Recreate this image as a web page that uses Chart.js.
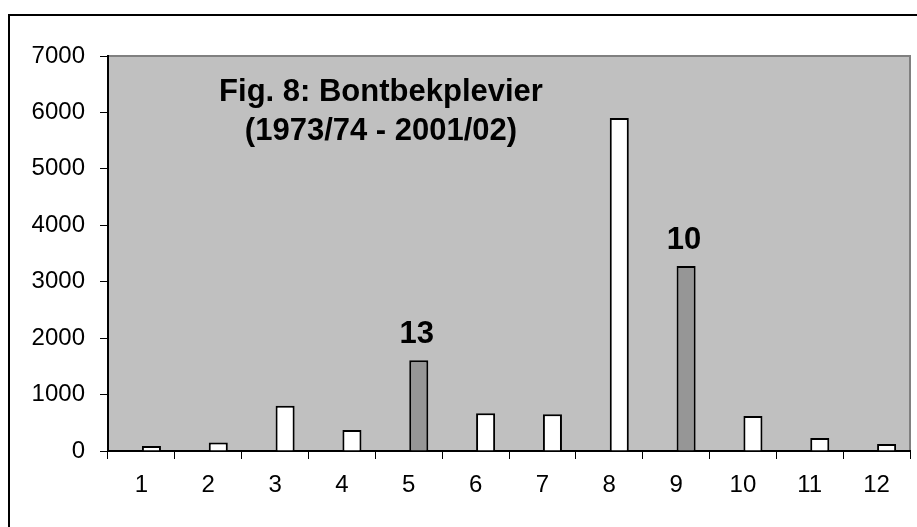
<!DOCTYPE html>
<html>
<head>
<meta charset="utf-8">
<script src="https://cdn.jsdelivr.net/npm/chart.js@4.4.1/dist/chart.umd.min.js"></script>
<style>
  body { margin: 0; background: #fff; }
  #wrap { width: 917px; height: 527px; position: relative; }
</style>
</head>
<body>
<div id="wrap"><canvas id="bars" width="917" height="527"></canvas></div>
<script>
// months 1..12 and counts
const months = ['1', '2', '3', '4', '5', '6', '7', '8', '9', '10', '11', '12'];
const counts = [90, 150, 800, 370, 1610, 670, 650, 5900, 3280, 620, 230, 125];
// number of seasons shown above the grey bars
const barNotes = [null, null, null, null, '13', null, null, null, '10', null, null, null];
const yTicks = [0, 1000, 2000, 3000, 4000, 5000, 6000, 7000];
const titleLines = ['Fig. 8: Bontbekplevier', '(1973/74 - 2001/02)'];

const fontName = '"Liberation Sans", Arial, sans-serif';

var barColors = barNotes.map(function (n) { return n ? '#969696' : '#ffffff'; });

// grey plot area + outer frame
const frame = {
  id: 'frame',
  beforeDraw(chart) {
    const c = chart.ctx, a = chart.chartArea;
    c.save();
    c.fillStyle = '#c0c0c0';
    c.fillRect(a.left, a.top, a.right - a.left, a.bottom - a.top);
    c.strokeStyle = '#808080';
    c.lineWidth = 2;
    c.beginPath();
    c.moveTo(a.left, a.top);
    c.lineTo(a.right, a.top);
    c.lineTo(a.right, a.bottom);
    c.stroke();
    // outer chart border (left and top visible)
    c.strokeStyle = '#000';
    c.lineWidth = 2;
    c.beginPath();
    c.moveTo(9, 540);
    c.lineTo(9, 15);
    c.lineTo(920, 15);
    c.stroke();
    c.restore();
  },
  afterDatasetsDraw(chart) {
    const c = chart.ctx, a = chart.chartArea;
    const meta = chart.getDatasetMeta(1);
    c.save();
    c.fillStyle = '#000';
    c.textAlign = 'center';
    c.textBaseline = 'alphabetic';
    c.font = 'bold 31px ' + fontName;
    const cx = (a.left + a.right) / 2 - 128;
    c.fillText(titleLines[0], cx, 101);
    c.fillText(titleLines[1], cx, 140);
    meta.data.forEach(function (bar, i) {
      if (barNotes[i]) {
        c.fillText(barNotes[i], bar.x - 2, bar.y - 17);
      }
    });
    c.restore();
  }
};

new Chart(document.getElementById('bars'), {
  type: 'bar',
  data: {
    labels: months,
    datasets: [{
      // empty first series, keeps the bars to the right of centre like the original
      data: months.map(function () { return null; }),
      backgroundColor: '#ffffff'
    }, {
      data: counts,
      backgroundColor: barColors,
      borderColor: '#000',
      borderWidth: 2,
      categoryPercentage: 0.6,
      barPercentage: 0.95
    }]
  },
  options: {
    responsive: false,
    animation: false,
    layout: { padding: { top: 56, right: 7, left: 0, bottom: 0 } },
    plugins: { legend: { display: false }, tooltip: { enabled: false } },
    datasets: { bar: { categoryPercentage: 0.6, barPercentage: 0.95 } },
    scales: {
      x: {
        afterFit(s) { s.height = 76; },
        grid: { drawOnChartArea: false, offset: true, tickLength: 8, color: '#000', lineWidth: 1 },
        border: { color: '#000', width: 2 },
        ticks: { color: '#000', padding: 12, font: { family: fontName, size: 24 } }
      },
      y: {
        min: 0,
        max: 7000,
        afterFit(s) { s.width = 108; },
        afterBuildTicks(s) { s.ticks = yTicks.map(function (v) { return { value: v }; }); },
        grid: { drawOnChartArea: false, tickLength: 8, color: '#000', lineWidth: 1 },
        border: { color: '#000', width: 2 },
        ticks: {
          color: '#000', padding: 15, font: { family: fontName, size: 24 },
          callback: function (v) { return String(v); }
        }
      }
    }
  },
  plugins: [frame]
});
</script>
</body>
</html>
